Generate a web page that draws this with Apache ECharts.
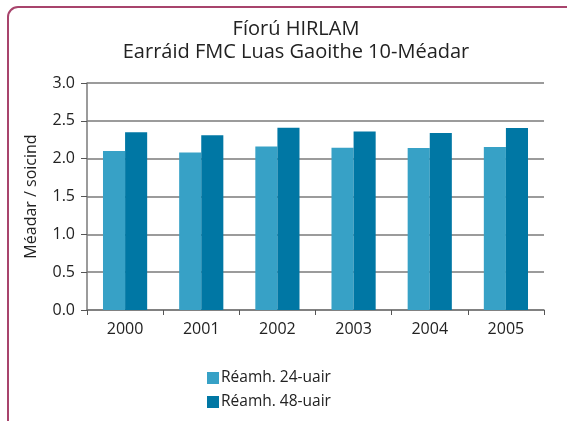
<!DOCTYPE html>
<html>
<head>
<meta charset="utf-8">
<script src="https://cdn.jsdelivr.net/npm/echarts@6/dist/echarts.min.js"></script>
<style>
  html, body { margin: 0; padding: 0; background: #fff; overflow: hidden; }
  #frame {
    position: absolute; left: 7px; top: 6px; width: 620px; height: 470px;
    border: 2px solid #a8446c; border-radius: 11px; box-sizing: border-box;
  }
  #chart { position: absolute; left: 0; top: 0; width: 567px; height: 421px; }
</style>
</head>
<body>
<div id="frame"></div>
<div id="chart"></div>
<script>
const years = ['2000', '2001', '2002', '2003', '2004', '2005'];
const forecast24 = [2.10, 2.08, 2.16, 2.145, 2.14, 2.155];
const forecast48 = [2.35, 2.31, 2.41, 2.36, 2.34, 2.405];
const seriesNames = ['Réamh. 24-uair', 'Réamh. 48-uair'];

const font = '"Open Sans", Lato, sans-serif';
const chart = echarts.init(document.getElementById('chart'));

const option = {
  animation: false,
  textStyle: { fontFamily: font },
  title: {
    text: 'Fíorú HIRLAM\nEarráid FMC Luas Gaoithe 10-Méadar',
    left: 291,
    top: 13,
    textAlign: 'center',
    textStyle: { fontFamily: font, fontSize: 20, fontWeight: 'normal', color: '#222', lineHeight: 23 }
  },
  legend: {
    orient: 'vertical',
    left: 207,
    top: 369,
    padding: 0,
    itemWidth: 12,
    itemHeight: 12,
    itemGap: 6,
    icon: 'rect',
    data: seriesNames,
    textStyle: { fontFamily: font, fontSize: 15.5, color: '#222', lineHeight: 18, padding: [0, 0, 0, -3] }
  },
  grid: { left: 87, right: 23, top: 83, bottom: 111, containLabel: false },
  xAxis: {
    type: 'category',
    data: years,
    axisLine: { lineStyle: { color: '#7a7a7a', width: 1.5 } },
    axisTick: { show: true, length: 5, lineStyle: { color: '#555' } },
    axisLabel: { fontFamily: font, fontSize: 16, color: '#222', margin: 11 }
  },
  yAxis: {
    type: 'value',
    min: 0,
    max: 3,
    interval: 0.5,
    name: 'Méadar / soicind',
    nameLocation: 'middle',
    nameGap: 48,
    nameTextStyle: { fontFamily: font, fontSize: 16, color: '#222' },
    axisLine: { show: true, lineStyle: { color: '#7a7a7a', width: 1.5 } },
    axisTick: { show: true, length: 6, lineStyle: { color: '#555' } },
    axisLabel: { fontFamily: font, fontSize: 16, color: '#222', margin: 12, formatter: v => v.toFixed(1) },
    splitLine: { lineStyle: { color: '#7a7a7a', width: 1.5 } }
  },
  series: [
    {
      name: seriesNames[0],
      type: 'bar',
      data: forecast24,
      barGap: '0%',
      barCategoryGap: '42%',
      itemStyle: { color: '#37a1c6' }
    },
    {
      name: seriesNames[1],
      type: 'bar',
      data: forecast48,
      itemStyle: { color: '#0077a4' }
    }
  ]
};

chart.setOption(option);
window.addEventListener('resize', () => chart.resize());
</script>
</body>
</html>
